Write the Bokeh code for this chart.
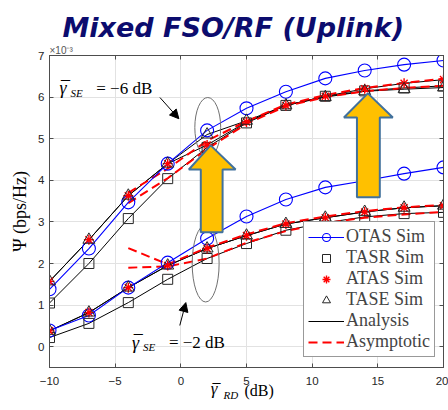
from bokeh.plotting import figure
from bokeh.models import (Range1d, FixedTicker, LinearAxis, Label, Arrow, NormalHead,
                          Legend, LegendItem, Title)
from bokeh.embed import file_html
from bokeh.resources import INLINE

# ---------------- data (values in units of 1e-3 bps/Hz) ----------------
x_db = [-10, -7, -4, -1, 2, 5, 8, 11, 14, 17, 20]
x_asym = [-4, -1, 2, 5, 8, 11, 14, 17, 20]

# gamma_SE = -6 dB group
otas_m6 = [1.38, 2.36, 3.47, 4.40, 5.20, 5.73, 6.13, 6.45, 6.64, 6.78, 6.88]
tasr_m6 = [1.05, 2.00, 3.08, 4.04, 4.79, 5.38, 5.80, 6.02, 6.15, 6.22, 6.27]
atas_m6 = [1.57, 2.57, 3.63, 4.40, 4.85, 5.40, 5.80, 6.02, 6.20, 6.33, 6.42]
tase_m6 = [1.57, 2.57, 3.63, 4.40, 5.10, 5.43, 5.80, 6.00, 6.14, 6.19, 6.23]
asym1_m6 = [3.70, 4.28, 4.95, 5.42, 5.82, 6.05, 6.22, 6.34, 6.44]
asym2_m6 = [3.45, 4.05, 4.75, 5.36, 5.78, 6.00, 6.14, 6.22, 6.27]

# gamma_SE = -2 dB group
otas_m2 = [0.39, 0.75, 1.42, 2.02, 2.60, 3.13, 3.54, 3.83, 3.99, 4.16, 4.31]
tasr_m2 = [0.22, 0.56, 1.06, 1.62, 2.12, 2.48, 2.80, 2.98, 3.12, 3.20, 3.23]
atas_m2 = [0.38, 0.82, 1.42, 1.95, 2.36, 2.67, 2.95, 3.10, 3.24, 3.34, 3.39]
tase_m2 = [0.38, 0.82, 1.42, 1.95, 2.36, 2.67, 2.95, 3.10, 3.24, 3.34, 3.39]
asym1_m2 = [2.37, 1.98, 2.38, 2.70, 2.97, 3.13, 3.26, 3.35, 3.41]
asym2_m2 = [1.90, 1.93, 2.12, 2.50, 2.78, 2.97, 3.10, 3.18, 3.24]

x_ticks = [-10, -5, 0, 5, 10, 15, 20]
y_ticks = [0, 1, 2, 3, 4, 5, 6, 7]

AX = "#4d4d4d"
TICK_TXT = "#262626"
SERIF = "Liberation Serif"

p = figure(width=448, height=410, x_range=Range1d(-10, 20), y_range=Range1d(-0.5, 7),
           output_backend="svg", toolbar_location=None, title=None,
           min_border_left=47, min_border_right=5, min_border_top=55, min_border_bottom=43,
           background_fill_color="white", border_fill_color="white")

p.outline_line_color = AX
for ax in (p.xaxis[0], p.yaxis[0]):
    ax.major_tick_in = 4
    ax.major_tick_out = 0
    ax.minor_tick_in = 0
    ax.minor_tick_out = 0
    ax.axis_line_color = AX
    ax.major_tick_line_color = AX
    ax.major_label_text_font = "Liberation Sans"
    ax.major_label_text_font_size = "11.5px"
    ax.major_label_text_color = TICK_TXT
p.xaxis.ticker = FixedTicker(ticks=x_ticks)
p.yaxis.ticker = FixedTicker(ticks=y_ticks)
p.xaxis.major_label_standoff = 9
p.yaxis.major_label_standoff = 5
p.yaxis.axis_label = "\u03a8 (bps/Hz)"
p.yaxis.axis_label_text_font = SERIF
p.yaxis.axis_label_text_font_size = "18px"
p.yaxis.axis_label_text_font_style = "normal"
p.yaxis.axis_label_text_color = "black"
p.yaxis.axis_label_standoff = 5

top_ax = LinearAxis(ticker=FixedTicker(ticks=x_ticks),
                    major_label_overrides={t: "" for t in x_ticks},
                    major_label_standoff=0, major_tick_in=4, major_tick_out=0,
                    minor_tick_in=0, minor_tick_out=0, axis_line_color=AX,
                    major_tick_line_color=AX)
right_ax = LinearAxis(ticker=FixedTicker(ticks=y_ticks),
                      major_label_overrides={t: "" for t in y_ticks},
                      major_label_standoff=0, major_tick_in=4, major_tick_out=0,
                      minor_tick_in=0, minor_tick_out=0, axis_line_color=AX,
                      major_tick_line_color=AX)
p.add_layout(top_ax, "above")
p.add_layout(right_ax, "right")

# exponent and title (stacked above the frame)
p.add_layout(Title(text="\u00d710\u207b\u00b3", align="left", offset=0, standoff=0,
                   text_font="Liberation Sans", text_font_size="10px",
                   text_font_style="normal", text_color="#555555"), "above")
p.add_layout(Title(text="Mixed FSO/RF (Uplink)", align="left", offset=13, standoff=0,
                   text_font="DejaVu Sans", text_font_size="27px",
                   text_font_style="bold italic", text_color="#0c0c6e"), "above")

# x-axis label: macron + (dB), subscript RD (below), italic gamma (side panel label)
p.add_layout(Title(text="\u00af\u2003\u2002(dB)", align="left", offset=163, standoff=-11,
                   vertical_align="top", text_font=SERIF, text_font_size="16px",
                   text_font_style="normal", text_color="black"), "below")
p.add_layout(Title(text="RD", align="left", offset=174, standoff=-14,
                   vertical_align="top", text_font=SERIF, text_font_size="11px",
                   text_font_style="italic", text_color="black"), "below")
p.add_layout(Label(x=2.27, y=-1.24, text="\u03b3", text_font=SERIF, text_font_size="17px",
                   text_font_style="italic", text_color="black"), "left")

p.xgrid.ticker = FixedTicker(ticks=x_ticks)
p.ygrid.ticker = FixedTicker(ticks=y_ticks)
p.grid.grid_line_color = "#e2e2e2"
p.grid.grid_line_width = 1

BLUE = "#0000ff"
RED = "#ff0000"
DARK = "#262626"

legend_r = {}


def draw_group(otas, tasr, atas, tase, asym1, asym2, first):
    r_an = None
    for ys in (tasr, atas, tase):
        r_an = p.line(x_db, ys, line_color="black", line_width=1)
    r_as = None
    for ys in (asym1, asym2):
        r_as = p.line(x_asym, ys, line_color=RED, line_width=2, line_dash="9 5")
    r_ol = p.line(x_db, otas, line_color=BLUE, line_width=1.1)
    r_oc = p.scatter(x_db, otas, marker="circle", size=13, fill_color=None,
                     line_color=BLUE, line_width=1.1)
    r_sq = p.scatter(x_db, tasr, marker="square", size=10, fill_color=None,
                     line_color=DARK, line_width=1)
    r_st = p.scatter(x_db, atas, marker="asterisk", size=10, line_color=RED, line_width=1.4)
    r_tr = p.scatter(x_db, tase, marker="triangle", size=12, fill_color=None,
                     line_color=DARK, line_width=1)
    if first:
        legend_r.update(otas=[r_ol, r_oc], tasr=[r_sq], atas=[r_st], tase=[r_tr],
                        an=[r_an], asym=[r_as])


draw_group(otas_m6, tasr_m6, atas_m6, tase_m6, asym1_m6, asym2_m6, True)
draw_group(otas_m2, tasr_m2, atas_m2, tase_m2, asym1_m2, asym2_m2, False)

# ellipses around the x = 2 dB points
p.ellipse(x=[2.05, 1.89], y=[5.27, 2.00], width=[1.97, 2.05], height=[1.44, 1.85],
          fill_color=None, line_color="#707070", line_width=1)

# yellow block arrows
YEL = "#FFC000"
EDGE = "#41719C"
p.patch([1.52, 1.52, 0.61, 2.27, 4.17, 3.18, 3.18],
        [2.75, 4.26, 4.26, 4.84, 4.26, 4.26, 2.75],
        fill_color=YEL, line_color=EDGE, line_width=2)
p.patch([13.41, 13.41, 12.42, 14.24, 16.14, 15.15, 15.15],
        [3.59, 5.51, 5.51, 6.09, 5.51, 5.51, 3.59],
        fill_color=YEL, line_color=EDGE, line_width=2)

# small black arrows
p.add_layout(Arrow(end=NormalHead(size=9, fill_color="black", line_color="black"),
                   x_start=-1.59, y_start=5.99, x_end=-0.15, y_end=5.48,
                   line_color="black", line_width=1))
p.add_layout(Arrow(end=NormalHead(size=9, fill_color="black", line_color="black"),
                   x_start=-0.08, y_start=0.51, x_end=0.38, y_end=1.06,
                   line_color="black", line_width=1))


def lab(x, y, text, size, style="normal", font=SERIF, color="black", align="left",
        baseline="alphabetic"):
    p.add_layout(Label(x=x, y=y, text=text, text_font=font, text_font_size=size,
                       text_font_style=style, text_color=color, text_align=align,
                       text_baseline=baseline))


def gamma_label(x, y, sub, rest, big="18px", small="11px"):
    lab(x, y, "\u03b3", big, "italic")
    lab(x + 0.12, y + 0.02, "\u00af", big)
    lab(x + 0.83, y - 0.11, sub, small, "italic")
    lab(x + 2.8, y, rest, "17px")


gamma_label(-9.24, 6.21, "SE", "= \u22126 dB")
gamma_label(-3.71, 0.10, "SE", "= \u22122 dB")

legend = Legend(items=[
    LegendItem(label="OTAS Sim", renderers=legend_r["otas"]),
    LegendItem(label="TASR Sim", renderers=legend_r["tasr"]),
    LegendItem(label="ATAS Sim", renderers=legend_r["atas"]),
    LegendItem(label="TASE Sim", renderers=legend_r["tase"]),
    LegendItem(label="Analysis", renderers=legend_r["an"]),
    LegendItem(label="Asymptotic", renderers=legend_r["asym"]),
], location=(254, 10), margin=0, padding=4, spacing=0, glyph_width=36, glyph_height=20,
    label_height=20, label_standoff=2, label_text_font=SERIF, label_text_font_size="18px",
    border_line_color="#333333", border_line_width=1, background_fill_color="white",
    background_fill_alpha=1.0)
p.add_layout(legend, "center")

open("out.html", "w").write(file_html(p, INLINE))
